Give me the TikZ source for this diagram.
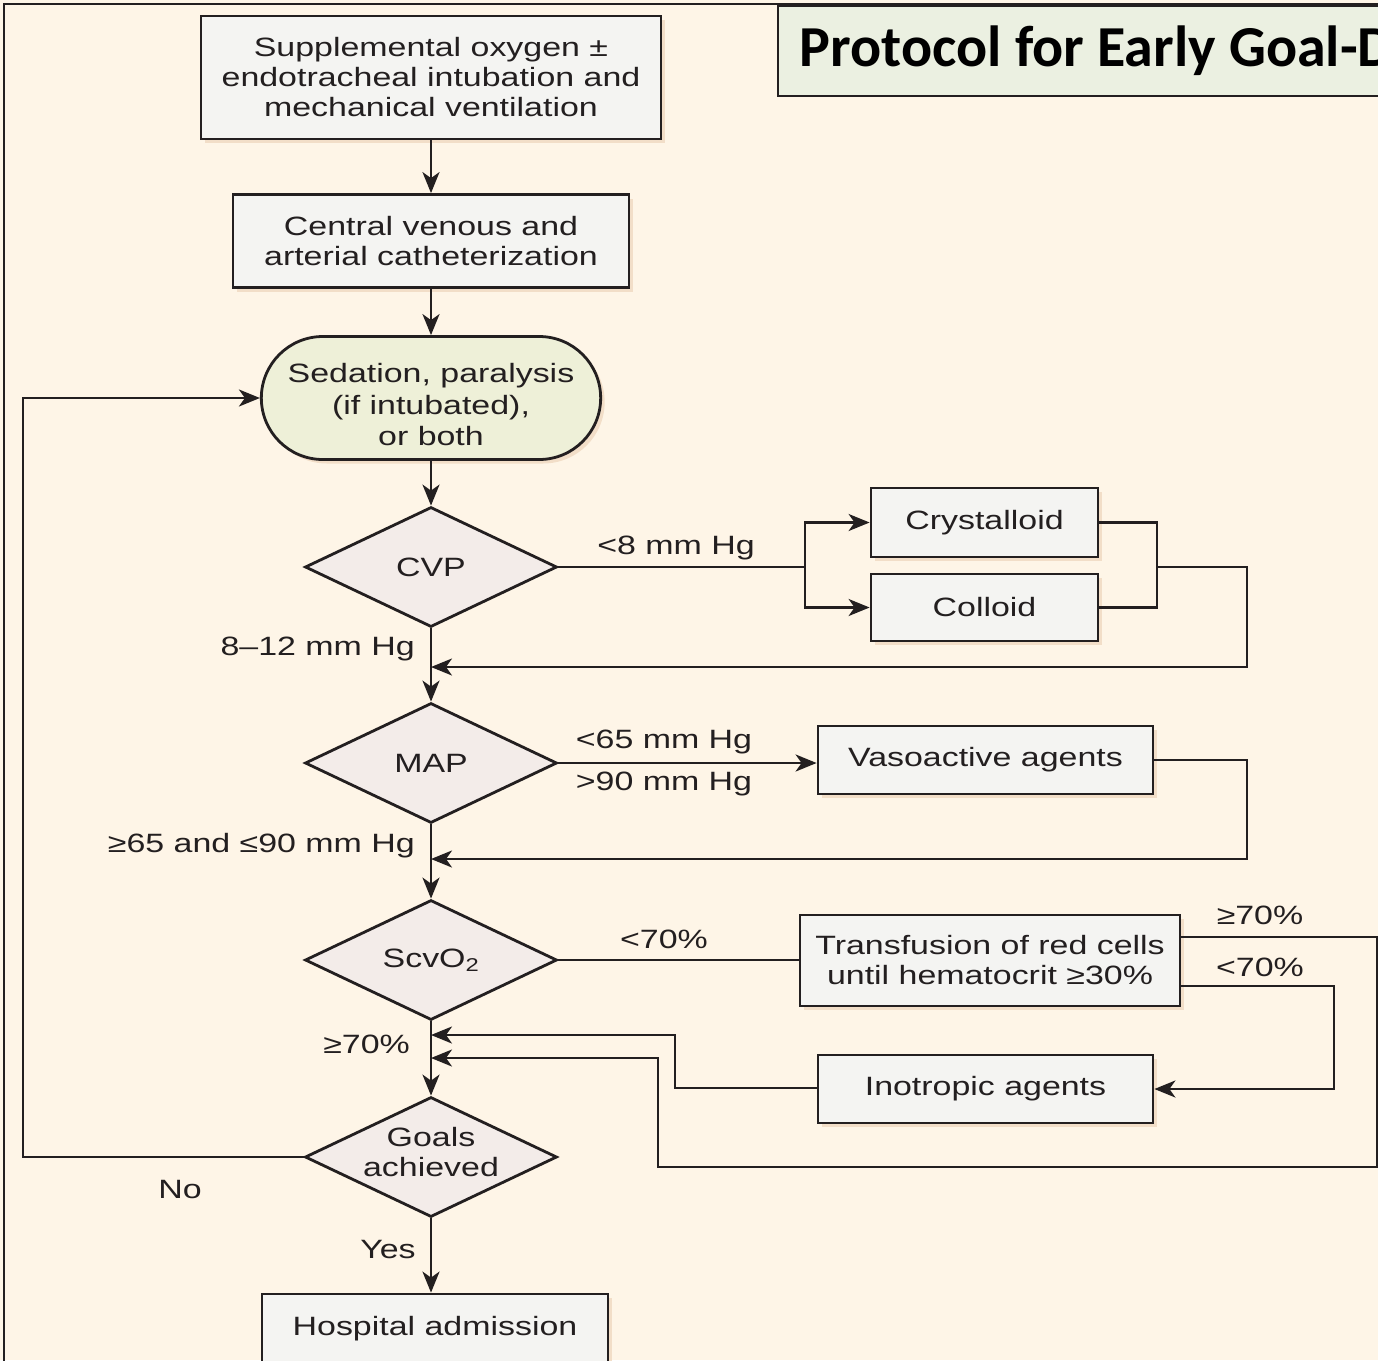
\documentclass[tikz,border=0pt]{standalone}
\usepackage{fontspec}
\setmainfont{Liberation Sans}[FakeStretch=1.28]
\newfontfamily\titlefont{Carlito}
\usetikzlibrary{shapes.geometric,shapes.misc,arrows.meta,shadows}
\definecolor{bg}{RGB}{254,245,231}
\definecolor{boxfill}{RGB}{244,244,242}
\definecolor{sedfill}{RGB}{238,240,216}
\definecolor{diafill}{RGB}{243,236,233}
\definecolor{titlefill}{RGB}{235,240,225}
\definecolor{txt}{RGB}{35,31,32}
\definecolor{shade}{RGB}{242,222,200}
\tikzset{
  base/.style={draw=txt, line width=2.8pt, text=txt, align=center,
    font=\fontsize{26.5}{30}\selectfont},
  procbox/.style={base, rectangle, fill=boxfill,
    drop shadow={shadow xshift=4pt, shadow yshift=-4pt, fill=shade, opacity=1}},
  stadium/.style={base, rounded rectangle, fill=sedfill,
    drop shadow={shadow xshift=4pt, shadow yshift=-4pt, fill=shade, opacity=1}},
  decision/.style={base, diamond, fill=diafill, inner sep=0pt, aspect=2.1},
  titlebox/.style={draw=txt, line width=1.6pt, fill=titlefill, rectangle,
    text=black, font=\titlefont\fontsize{58}{64}\selectfont\bfseries},
  lbl/.style={text=txt, font=\fontsize{26.5}{30}\selectfont, inner sep=0pt},
  conn/.style={draw=txt, line width=2.5pt},
  arr/.style={conn, -{Stealth[length=21pt, width=17pt, inset=6pt]}},
}
\begin{document}
\begin{tikzpicture}[x=1pt, y=-1pt]
\useasboundingbox (0,0) rectangle (1378,1360);
\clip (0,0) rectangle (1378,1360);
\fill[bg] (0,0) rectangle (1378,1360);
% outer frame
\draw[draw=txt, line width=2.5pt] (4,1365) -- (4,4) -- (1385,4);

% title
\node[titlebox, anchor=north west, minimum height=90pt, text width=620pt,
  inner xsep=22pt, align=flush left] (title) at (777,5) {Protocol for Early Goal-D};

% main column
\node[procbox, minimum width=460pt, minimum height=123pt] (b1) at (431,77.5)
  {Supplemental oxygen ±\\endotracheal intubation and\\mechanical ventilation};
\node[procbox, minimum width=396pt, minimum height=93pt] (b2) at (431,241)
  {Central venous and\\arterial catheterization};
\node[stadium, minimum width=346pt, minimum height=123pt,
  font=\fontsize{26.5}{31.5}\selectfont] (sed) at (431,398)
  {\rule{0pt}{33pt}Sedation, paralysis\\(if intubated),\\or both};
\node[decision, minimum width=252pt, minimum height=120pt] (cvp) at (431,567) {CVP};
\node[decision, minimum width=252pt, minimum height=120pt] (map) at (431,763) {MAP};
\node[decision, minimum width=252pt, minimum height=120pt] (scv) at (431,960) {ScvO\textsubscript{2}};
\node[decision, minimum width=252pt, minimum height=120pt] (goals) at (431,1157)
  {\raisebox{-19pt}[0pt][0pt]{\begin{tabular}[b]{@{}c@{}}Goals\\achieved\end{tabular}}};
\node[procbox, minimum width=346pt, minimum height=70pt] (hosp) at (435,1329) {Hospital admission};

% right column
\node[procbox, minimum width=227pt, minimum height=69pt] (cry) at (984.5,522.5) {Crystalloid};
\node[procbox, minimum width=227pt, minimum height=67pt] (col) at (984.5,607.5) {Colloid};
\node[procbox, minimum width=335pt, minimum height=68pt] (vaso) at (985.5,760) {Vasoactive agents};
\node[procbox, minimum width=380pt, minimum height=91pt] (trans) at (990,960.5)
  {Transfusion of red cells\\until hematocrit ≥30\%};
\node[procbox, minimum width=335pt, minimum height=68pt] (ino) at (985.5,1089) {Inotropic agents};

% coordinates
\coordinate (split) at (805,567);
\coordinate (join) at (1157,567);
\coordinate (r1) at (1247,667);
\coordinate (e1) at (431,667);
\coordinate (r2) at (1247,859);
\coordinate (e2) at (431,859);
\coordinate (t1) at (1377,937);
\coordinate (t2) at (1377,1167);
\coordinate (t3) at (658,1167);
\coordinate (t4) at (658,1058);
\coordinate (e4) at (431,1058);
\coordinate (u1) at (1334,986);
\coordinate (i1) at (675,1088);
\coordinate (e3) at (431,1035);
\coordinate (n1) at (23,1157);

% main flow
\draw[arr] (b1.south) -- (b2.north);
\draw[arr] (b2.south) -- (sed.north);
\draw[arr] (sed.south) -- (cvp.north);
\draw[arr] (cvp.south) -- (map.north);
\draw[arr] (map.south) -- (scv.north);
\draw[arr] (scv.south) -- (goals.north);
\draw[arr] (goals.south) -- (goals.south |- hosp.north);

% CVP branch
\draw[conn] (cvp.east) -- (split);
\draw[arr] (split) |- (cry.west);
\draw[arr] (split) |- (col.west);
\draw[conn] (cry.east) -| (join);
\draw[conn] (col.east) -| (join);
\draw[arr] (join) -| (r1) -- (e1);

% MAP branch
\draw[arr] (map.east) -- (map.east -| vaso.west);
\draw[arr] (vaso.east) -| (r2) -- (e2);

% ScvO2 branch
\draw[conn] (scv.east) -- (scv.east -| trans.west);
\draw[arr] (trans.east |- t1) -- (t1) -- (t2) -- (t3) -- (t4) -- (e4);
\draw[arr] (trans.east |- u1) -- (u1) |- (ino.east);
\draw[arr] (ino.west |- i1) -- (i1) |- (e3);

% Goals not achieved
\draw[arr] (goals.west) -- (n1) |- (sed.west);

% labels
\node[lbl] (l1) at (676,548) {<8 mm Hg};
\node[lbl, anchor=east] (l2) at (415,649) {8–12 mm Hg};
\node[lbl] (l3) at (664,742) {<65 mm Hg};
\node[lbl] (l4) at (664,784) {>90 mm Hg};
\node[lbl, anchor=east] (l5) at (415,846) {≥65 and ≤90 mm Hg};
\node[lbl] (l6) at (664,939) {<70\%};
\node[lbl] (l7) at (1260,915) {≥70\%};
\node[lbl] (l8) at (1260,967) {<70\%};
\node[lbl, anchor=east] (l9) at (410,1044) {≥70\%};
\node[lbl] (l10) at (180,1189) {No};
\node[lbl] (l11) at (388,1249) {Yes};
\end{tikzpicture}
\end{document}
